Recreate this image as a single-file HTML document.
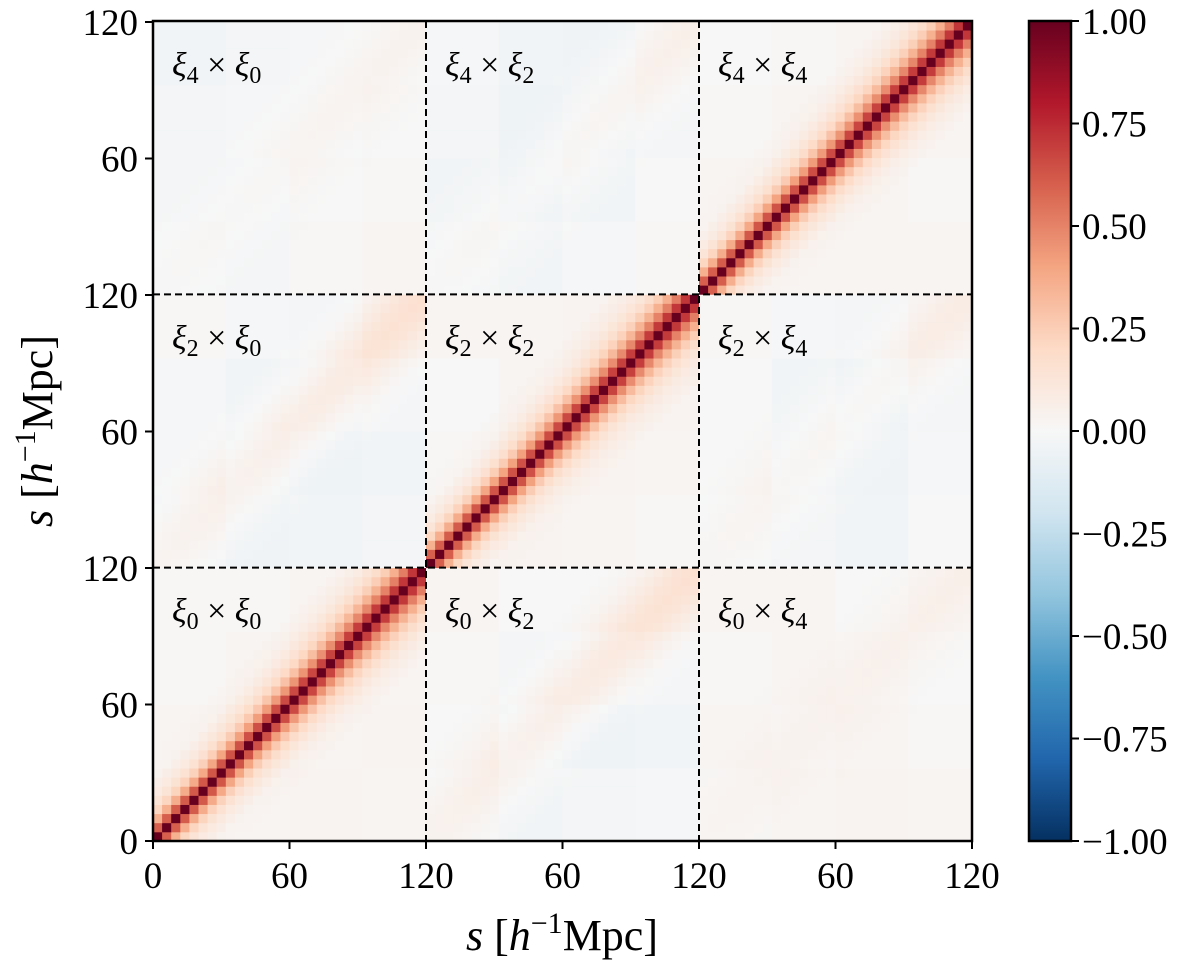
<!DOCTYPE html>
<html><head><meta charset="utf-8">
<style>
html,body{margin:0;padding:0;background:#fff;}
svg text{font-family:"Liberation Serif","DejaVu Serif",serif;fill:#000;}
</style></head>
<body>
<svg id="chart" width="1200" height="970" xmlns="http://www.w3.org/2000/svg">
<defs>
<linearGradient id="cbgrad" x1="0" y1="1" x2="0" y2="0">
<stop offset="0" stop-color="#053061"/><stop offset="0.1" stop-color="#2166ac"/>
<stop offset="0.2" stop-color="#4393c3"/><stop offset="0.3" stop-color="#92c5de"/>
<stop offset="0.4" stop-color="#d1e5f0"/><stop offset="0.5" stop-color="#f7f7f7"/>
<stop offset="0.6" stop-color="#fddbc7"/><stop offset="0.7" stop-color="#f4a582"/>
<stop offset="0.8" stop-color="#d6604d"/><stop offset="0.9" stop-color="#b2182b"/>
<stop offset="1" stop-color="#67001f"/>
</linearGradient>
</defs>
<g id="cells"></g>
<g id="overlay"></g>
</svg>
<script>
// ---- data ----
const blockTickLabels = ["0","60","120"];
const multipoles = ["0","2","4"];
const binsPerBlock = 30;
// auto-correlation falloff with bin offset (small scale / large scale)
const autoProfileSmall = [1.0,0.6,0.35,0.2,0.11,0.06,0.03];
const autoProfileLarge = [1.0,0.72,0.52,0.37,0.26,0.18,0.12,0.08,0.05,0.03];
// cross-block ridge amplitude [rowBlock][colBlock]
const crossAmp = [[0,0.16,0.05],[0.16,0,0.08],[0.05,0.08,0]];
const crossProfile = [1.0,0.95,0.85,0.7,0.55,0.4,0.28,0.18,0.1,0.05];
// coarse background (12x12, row 0 = bottom)
const background = [
 [0.03,0.02,0.03,0.02,-0.01,-0.03,-0.02,-0.01,0.01,0.02,0.03,0.02],
 [0.02,0.03,0.02,0.03,0.0,-0.04,-0.05,-0.03,0.02,0.01,0.02,0.01],
 [0.01,0.02,0.03,0.02,0.01,-0.02,-0.03,-0.02,0.01,0.02,0.01,0.0],
 [0.01,0.01,0.02,0.03,0.02,0.0,0.0,0.0,0.02,0.02,0.0,0.01],
 [-0.02,-0.04,-0.03,-0.02,0.02,0.03,0.02,0.01,-0.01,-0.02,-0.03,0.0],
 [-0.01,-0.04,-0.05,-0.03,0.01,0.02,0.03,0.02,0.0,-0.03,-0.04,-0.01],
 [-0.01,-0.03,-0.04,-0.02,0.0,0.02,0.02,0.03,0.0,-0.03,-0.05,-0.02],
 [0.01,-0.01,-0.02,0.0,0.02,0.02,0.03,0.02,0.01,-0.01,-0.02,0.0],
 [-0.01,-0.02,0.01,0.02,-0.02,-0.03,-0.01,0.01,0.02,0.02,0.02,0.02],
 [-0.02,-0.02,0.0,0.01,-0.03,-0.05,-0.03,0.0,0.02,0.03,0.02,0.01],
 [-0.02,-0.01,-0.01,0.0,-0.02,-0.05,-0.04,-0.02,0.01,0.02,0.03,0.02],
 [-0.03,-0.02,-0.01,-0.01,-0.01,-0.03,-0.04,-0.02,0.0,0.01,0.02,0.03]
];
const cbTicks = [1.0,0.75,0.5,0.25,0.0,-0.25,-0.5,-0.75,-1.0];
const cbLabels = ["1.00","0.75","0.50","0.25","0.00","\u22120.25","\u22120.50","\u22120.75","\u22121.00"];

// ---- geometry ----
const X0=153, X1=972, Y0=21, Y1=841;
const N = binsPerBlock*3;
const cw=(X1-X0)/N, ch=(Y1-Y0)/N;
const xPos = b => X0 + b*cw;
const yPos = b => Y1 - (b+1)*ch;
const cbY = v => Y1 - (v+1)/2*(Y1-Y0);

const stops=["#053061","#2166ac","#4393c3","#92c5de","#d1e5f0","#f7f7f7","#fddbc7","#f4a582","#d6604d","#b2182b","#67001f"].map(h=>[parseInt(h.slice(1,3),16),parseInt(h.slice(3,5),16),parseInt(h.slice(5,7),16)]);
function cmap(v){
  v=Math.max(-1,Math.min(1,v));
  const t=(v+1)/2*10, i=Math.min(9,Math.floor(t)), f=t-i;
  const c=stops[i].map((a,k)=>Math.round(a+(stops[i+1][k]-a)*f));
  return `rgb(${c[0]},${c[1]},${c[2]})`;
}
function lookup(arr,d){return d<arr.length?arr[d]:0;}
function value(xb,yb){
  const bx=Math.floor(xb/binsPerBlock), by=Math.floor(yb/binsPerBlock);
  const i=xb%binsPerBlock, j=yb%binsPerBlock, d=Math.abs(i-j);
  const bg=background[Math.floor(yb*12/N)][Math.floor(xb*12/N)];
  if(bx===by){
    if(d===0) return 1;
    const w=(i+j)/2/(binsPerBlock-1);
    const v=(1-w)*lookup(autoProfileSmall,d)+w*lookup(autoProfileLarge,d);
    return v + bg*(1-Math.min(1,v*4));
  }
  const amp=crossAmp[by][bx]*(0.3+0.7*(i+j)/2/(binsPerBlock-1));
  return bg + amp*lookup(crossProfile,d);
}
const NS="http://www.w3.org/2000/svg";
const cells=document.getElementById('cells');
for(let yb=0;yb<N;yb++){for(let xb=0;xb<N;xb++){
  const r=document.createElementNS(NS,'rect');
  r.setAttribute('x',xPos(xb).toFixed(2));
  r.setAttribute('y',yPos(yb).toFixed(2));
  r.setAttribute('width',(cw+0.4).toFixed(2));
  r.setAttribute('height',(ch+0.4).toFixed(2));
  r.setAttribute('fill',cmap(value(xb,yb)));
  
  
  cells.appendChild(r);
}}

const ov=document.getElementById('overlay');
function el(tag,attrs,parent,text){
  const e=document.createElementNS(NS,tag);
  for(const k in attrs) e.setAttribute(k,attrs[k]);
  if(text!==undefined) e.textContent=text;
  (parent||ov).appendChild(e); return e;
}
for(let k=1;k<3;k++){
  const x=xPos(k*binsPerBlock), y=Y1-k*binsPerBlock*ch;
  const l1=el('line',{x1:x,y1:Y0,x2:x,y2:Y1,stroke:'#000','stroke-width':2,'stroke-dasharray':'7,4'});
  
  
  const l2=el('line',{x1:X0,y1:y,x2:X1,y2:y,stroke:'#000','stroke-width':2,'stroke-dasharray':'7,4'});
  
  
}
const fr=el('rect',{x:X0,y:Y0,width:X1-X0,height:Y1-Y0,fill:'none',stroke:'#000','stroke-width':2.5});


const blockPx=binsPerBlock*cw;
for(let b=0;b<3;b++){for(let t=0;t<3;t++){
  if(b>0&&t===0) continue;
  const x=X0+b*blockPx+t*blockPx/2, y=Y1-b*blockPx-t*blockPx/2;
  el('line',{x1:x,y1:Y1,x2:x,y2:Y1+8,stroke:'#000','stroke-width':2});
  const tx=el('text',{x:x,y:Y1+47,'font-size':37,'text-anchor':'middle'},ov,blockTickLabels[t]);
  
  
  el('line',{x1:X0-8,y1:y,x2:X0,y2:y,stroke:'#000','stroke-width':2});
  const ty=el('text',{x:X0-15,y:y+13,'font-size':37,'text-anchor':'end'},ov,blockTickLabels[t]);
  
  
}}
for(let by=0;by<3;by++){for(let bx=0;bx<3;bx++){
  const x=X0+bx*blockPx+19, y=Y1-by*blockPx-blockPx+54;
  const t=el('text',{x:x,y:y,'font-size':34});
  
  
  el('tspan',{'font-style':'italic'},t,'\u03BE');
  el('tspan',{'font-size':24,dy:7},t,multipoles[by]);
  el('tspan',{dy:-7},t,' \u00D7 ');
  el('tspan',{'font-style':'italic'},t,'\u03BE');
  el('tspan',{'font-size':24,dy:7},t,multipoles[bx]);
}}
function axisTitle(x,y,rot,name){
  const t=el('text',{x:x,y:y,'font-size':44,'text-anchor':'middle',transform:rot?`rotate(-90 ${x} ${y})`:''});
  
  
  el('tspan',{'font-style':'italic'},t,'s');
  el('tspan',{},t,' [');
  el('tspan',{'font-style':'italic'},t,'h');
  el('tspan',{'font-size':30,dy:-17},t,'\u22121');
  el('tspan',{dy:17},t,'Mpc]');
}
axisTitle(562,950,false,'x-axis-title');
axisTitle(52,431,true,'y-axis-title');
const cb=el('rect',{x:1029,y:Y0,width:42,height:Y1-Y0,fill:'url(#cbgrad)',stroke:'#000','stroke-width':2.5});


cbTicks.forEach((v,i)=>{
  const y=cbY(v);
  el('line',{x1:1071,y1:y,x2:1079,y2:y,stroke:'#000','stroke-width':2});
  const t=el('text',{x:1082,y:y+13,'font-size':37},ov,cbLabels[i]);
  
  
});
</script>
</body></html>
